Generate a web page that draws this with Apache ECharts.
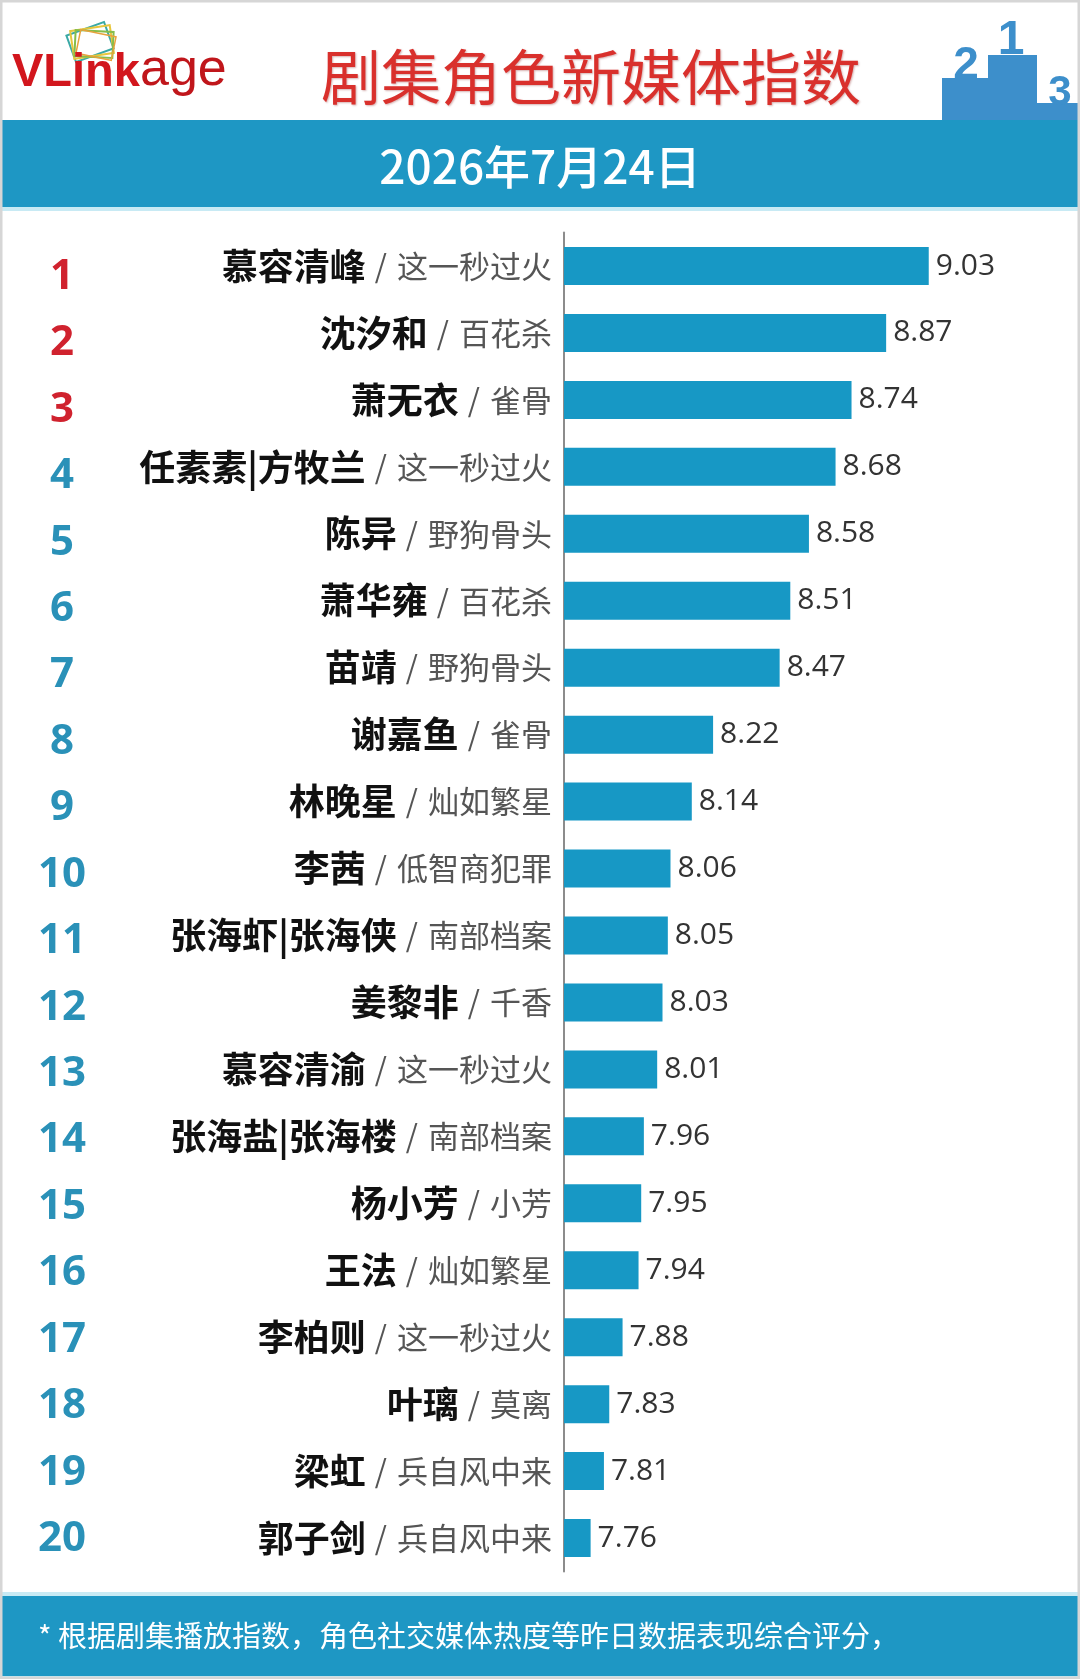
<!DOCTYPE html>
<html>
<head>
<meta charset="utf-8">
<script src="https://cdn.jsdelivr.net/npm/echarts@6/dist/echarts.min.js"></script>
<style>
  html, body { margin: 0; padding: 0; background: #ffffff; }
  #chart { width: 1080px; height: 1679px; }
</style>
</head>
<body>
<div id="chart"></div>
<script>
// ---- data ----
const ranks = ['1','2','3','4','5','6','7','8','9','10','11','12','13','14','15','16','17','18','19','20'];
const names = ['慕容清峰','沈汐和','萧无衣','任素素|方牧兰','陈异','萧华雍','苗靖','谢嘉鱼','林晚星','李茜',
               '张海虾|张海侠','姜黎非','慕容清渝','张海盐|张海楼','杨小芳','王法','李柏则','叶璃','梁虹','郭子剑'];
const shows = ['这一秒过火','百花杀','雀骨','这一秒过火','野狗骨头','百花杀','野狗骨头','雀骨','灿如繁星','低智商犯罪',
               '南部档案','千香','这一秒过火','南部档案','小芳','灿如繁星','这一秒过火','莫离','兵自风中来','兵自风中来'];
const values = [9.03, 8.87, 8.74, 8.68, 8.58, 8.51, 8.47, 8.22, 8.14, 8.06,
                8.05, 8.03, 8.01, 7.96, 7.95, 7.94, 7.88, 7.83, 7.81, 7.76];
const titleText = '剧集角色新媒体指数';
const dateText = '2026年7月24日';
const footText = '* 根据剧集播放指数，角色社交媒体热度等昨日数据表现综合评分，';

const BLUE = '#1e97c4';
const BAR = '#1798c5';
const PODIUM = '#3d8fcb';
const CJK = '"Noto Sans CJK SC", "Noto Sans", sans-serif';
const LAT = '"Liberation Sans", Arial, sans-serif';

const chart = echarts.init(document.getElementById('chart'), null, { renderer: 'canvas' });

const option = {
  backgroundColor: '#ffffff',
  animation: false,
  grid: [
    { left: 564, top: 232.5, width: 410, height: 1339 },
    { left: 70, top: 243.8, width: 10, height: 1328.4 }
  ],
  xAxis: [
    { type: 'value', gridIndex: 0, min: 7.66, max: 9.2, show: false, splitLine: { show: false } },
    { type: 'value', gridIndex: 1, min: 0, max: 1, show: false }
  ],
  yAxis: [
    {
      type: 'category', gridIndex: 0, inverse: true, data: names,
      axisLine: { show: true, lineStyle: { color: '#8c8c8c', width: 2 } },
      axisTick: { show: false },
      axisLabel: {
        margin: 12,
        interval: 0,
        formatter: function (v, i) { return '{n|' + v + '}{sl|/}{s|' + shows[i] + '}'; },
        rich: {
          n: { fontFamily: CJK, fontWeight: 'bold', fontSize: 36, color: '#111111' },
          sl: { fontFamily: CJK, fontWeight: 'normal', fontSize: 31, color: '#555555', padding: [0, 10, 0, 9] },
          s: { fontFamily: CJK, fontWeight: 'normal', fontSize: 31, color: '#555555' }
        }
      }
    },
    {
      type: 'category', gridIndex: 1, inverse: true, data: ranks,
      axisLine: { show: false }, axisTick: { show: false },
      axisLabel: {
        margin: 8, align: 'center', interval: 0,
        formatter: function (v, i) { return (i < 3 ? '{r|' : '{b|') + v + '}'; },
        rich: {
          r: { fontFamily: '"Open Sans", sans-serif', fontWeight: 'bold', fontSize: 42, color: '#d0222e' },
          b: { fontFamily: '"Open Sans", sans-serif', fontWeight: 'bold', fontSize: 42, color: '#2a91b8' }
        }
      }
    }
  ],
  series: [
    {
      type: 'bar', xAxisIndex: 0, yAxisIndex: 0, data: values,
      barWidth: 38,
      itemStyle: { color: BAR },
      label: {
        show: true, position: 'right', distance: 7,
        fontFamily: '"Open Sans", sans-serif', fontSize: 30, color: '#333333',
        formatter: function (p) { return p.value.toFixed(2); }
      }
    }
  ],
  graphic: [
    // header band
    { type: 'rect', shape: { x: 0, y: 120, width: 1080, height: 87 }, style: { fill: BLUE }, z: 1 },
    { type: 'rect', shape: { x: 0, y: 207, width: 1080, height: 4 }, style: { fill: '#c8eaf4' }, z: 1 },
    // footer band
    { type: 'rect', shape: { x: 0, y: 1592, width: 1080, height: 4 }, style: { fill: '#c8eaf4' }, z: 1 },
    { type: 'rect', shape: { x: 0, y: 1596, width: 1080, height: 80 }, style: { fill: BLUE }, z: 1 },
    { type: 'rect', shape: { x: 0, y: 1676, width: 1080, height: 3 }, style: { fill: '#bfeaf6' }, z: 1 },
    // frame
    { type: 'rect', shape: { x: 1, y: 1, width: 1078, height: 1677 }, style: { fill: 'none', stroke: '#d6d6d6', lineWidth: 3 }, z: 10 },
    // logo icon
    { type: 'rect', x: 90, y: 42, rotation: 0.35, shape: { x: -20, y: -14, width: 40, height: 28 }, style: { fill: 'none', stroke: '#3aa9a6', lineWidth: 2 }, z: 5 },
    { type: 'rect', x: 92, y: 42, rotation: 0.15, shape: { x: -20, y: -14, width: 40, height: 28 }, style: { fill: 'none', stroke: '#e8c63c', lineWidth: 2 }, z: 5 },
    { type: 'rect', x: 94, y: 44, rotation: -0.05, shape: { x: -19, y: -13, width: 38, height: 26 }, style: { fill: 'none', stroke: '#86bd4a', lineWidth: 2 }, z: 5 },
    { type: 'rect', x: 96, y: 45, rotation: -0.2, shape: { x: -18, y: -12, width: 36, height: 24 }, style: { fill: 'none', stroke: '#e8a23c', lineWidth: 1.5 }, z: 5 },
    // logo text
    { type: 'text', style: { text: 'VLink', x: 12, y: 97, fill: '#d2161d', fontFamily: LAT, fontWeight: 'bold', fontSize: 47, textAlign: 'left', textVerticalAlign: 'bottom' }, z: 5 },
    { type: 'text', style: { text: 'age', x: 140, y: 97, fill: '#c0161b', fontFamily: LAT, fontWeight: 'normal', fontSize: 52, textAlign: 'left', textVerticalAlign: 'bottom' }, z: 5 },
    // title
    { type: 'text', style: { text: titleText, x: 591, y: 77, fill: '#d9302c', fontFamily: CJK, fontWeight: 'normal', fontSize: 60, textAlign: 'center', textVerticalAlign: 'middle', textShadowColor: 'rgba(120,0,0,0.3)', textShadowBlur: 2, textShadowOffsetX: 1, textShadowOffsetY: 1 }, z: 5 },
    // podium
    { type: 'rect', shape: { x: 942, y: 78, width: 46, height: 42 }, style: { fill: PODIUM }, z: 2 },
    { type: 'rect', shape: { x: 988, y: 55, width: 49, height: 65 }, style: { fill: PODIUM }, z: 2 },
    { type: 'rect', shape: { x: 1037, y: 103, width: 41, height: 17 }, style: { fill: PODIUM }, z: 2 },
    { type: 'text', style: { text: '2', x: 966, y: 89, fill: PODIUM, fontFamily: LAT, fontWeight: 'bold', fontSize: 46, textAlign: 'center', textVerticalAlign: 'bottom' }, z: 2 },
    { type: 'text', style: { text: '1', x: 1011, y: 65, fill: PODIUM, fontFamily: LAT, fontWeight: 'bold', fontSize: 48, textAlign: 'center', textVerticalAlign: 'bottom' }, z: 2 },
    { type: 'text', style: { text: '3', x: 1060, y: 114, fill: PODIUM, fontFamily: LAT, fontWeight: 'bold', fontSize: 42, textAlign: 'center', textVerticalAlign: 'bottom' }, z: 2 },
    // date
    { type: 'text', style: { text: dateText, x: 540, y: 167, fill: '#ffffff', fontFamily: CJK, fontWeight: 500, fontSize: 46, textAlign: 'center', textVerticalAlign: 'middle' }, z: 5 },
    // footer text
    { type: 'text', style: { text: footText, x: 38, y: 1636, fill: '#ffffff', fontFamily: CJK, fontWeight: 'normal', fontSize: 29, textAlign: 'left', textVerticalAlign: 'middle' }, z: 5 }
  ]
};

chart.setOption(option);
</script>
</body>
</html>
